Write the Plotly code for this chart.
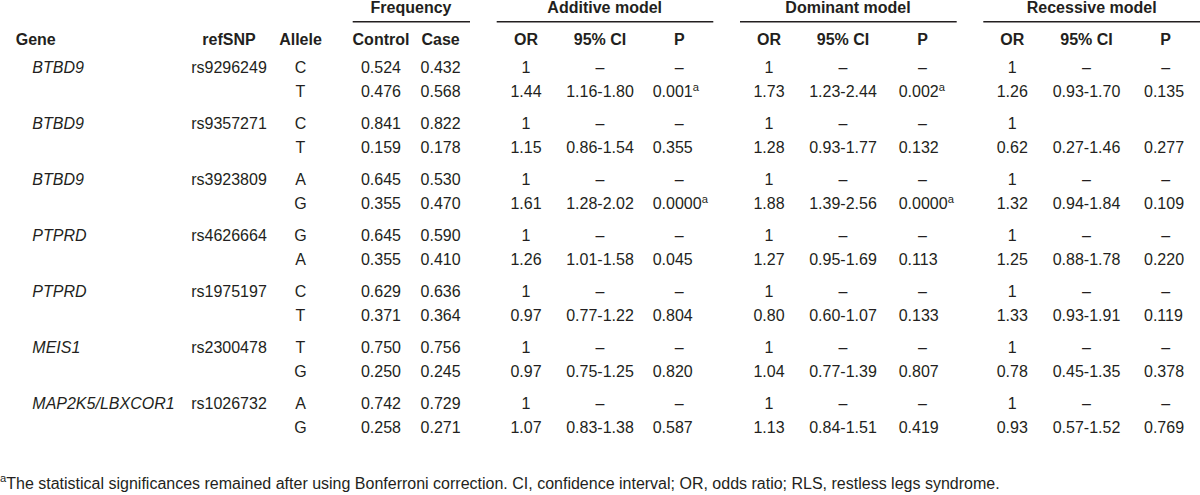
import plotly.graph_objects as go

# ---------------- data ----------------
genes = ["BTBD9", "BTBD9", "BTBD9", "PTPRD", "PTPRD", "MEIS1", "MAP2K5/LBXCOR1"]
snps = ["rs9296249", "rs9357271", "rs3923809", "rs4626664", "rs1975197", "rs2300478", "rs1026732"]
alleles = [["C", "T"], ["C", "T"], ["A", "G"], ["G", "A"], ["C", "T"], ["T", "G"], ["A", "G"]]
control_freq = [[0.524, 0.476], [0.841, 0.159], [0.645, 0.355], [0.645, 0.355],
                [0.629, 0.371], [0.750, 0.250], [0.742, 0.258]]
case_freq = [[0.432, 0.568], [0.822, 0.178], [0.530, 0.470], [0.590, 0.410],
             [0.636, 0.364], [0.756, 0.245], [0.729, 0.271]]

add_or = [1.44, 1.15, 1.61, 1.26, 0.97, 0.97, 1.07]
add_ci = ["1.16-1.80", "0.86-1.54", "1.28-2.02", "1.01-1.58", "0.77-1.22", "0.75-1.25", "0.83-1.38"]
add_p = ["0.001", "0.355", "0.0000", "0.045", "0.804", "0.820", "0.587"]
add_sig = [True, False, True, False, False, False, False]

dom_or = [1.73, 1.28, 1.88, 1.27, 0.80, 1.04, 1.13]
dom_ci = ["1.23-2.44", "0.93-1.77", "1.39-2.56", "0.95-1.69", "0.60-1.07", "0.77-1.39", "0.84-1.51"]
dom_p = ["0.002", "0.132", "0.0000", "0.113", "0.133", "0.807", "0.419"]
dom_sig = [True, False, True, False, False, False, False]

rec_or = [1.26, 0.62, 1.32, 1.25, 1.33, 0.78, 0.93]
rec_ci = ["0.93-1.70", "0.27-1.46", "0.94-1.84", "0.88-1.78", "0.93-1.91", "0.45-1.35", "0.57-1.52"]
rec_p = ["0.135", "0.277", "0.109", "0.220", "0.119", "0.378", "0.769"]
rec_sig = [False] * 7
# reference-row dashes shown (False = blank cells)
rec_ref_dash = [True, False, True, True, True, True, True]

group_headers = ["Frequency", "Additive model", "Dominant model", "Recessive model"]
col_headers = ["Gene", "refSNP", "Allele", "Control", "Case",
               "OR", "95% CI", "P", "OR", "95% CI", "P", "OR", "95% CI", "P"]
footnote = ("<sup>a</sup>The statistical significances remained after using Bonferroni correction. "
            "CI, confidence interval; OR, odds ratio; RLS, restless legs syndrome.")

# ---------------- layout constants (pixels) ----------------
W, H = 1200, 495
FONT = "Liberation Sans, Arial, sans-serif"
COLOR = "#231f20"
FS = 16

Y_GROUP_HDR = 8.5
Y_LINE = 21.7
Y_COL_HDR = 40.7
Y_ROW0 = 69.3
GROUP_STEP = 56
PAIR_STEP = 24
Y_FOOT = 485

X_GENE_HDR = 15.7
X_GENE = 32.3
X_SNP = 229
X_ALLELE = 300.5
X_CTRL = 381
X_CASE = 440.6
# model columns: OR center, CI center, P header/dash center, P values left edge
MODEL_X = [
    (526, 600, 679.3, 652.7),
    (769, 843, 922.5, 898.7),
    (1012.3, 1086.5, 1165.7, 1144),
]
GROUP_HDR_X = [411, 604.7, 848, 1091.7]
GROUP_LINES = [(352.7, 470), (496.7, 713.3), (740, 956.7), (983.3, 1200)]
COL_HDR_X = [None, X_SNP, X_ALLELE, X_CTRL, X_CASE] + [v for m in MODEL_X for v in m[:3]]

cx, cy, ct = [], [], []   # centred text
lx, ly, lt = [], [], []   # left-aligned text


def C(x, y, t):
    cx.append(x); cy.append(y); ct.append(t)


def L(x, y, t):
    lx.append(x); ly.append(y); lt.append(t)


# headers
for x, t in zip(GROUP_HDR_X, group_headers):
    C(x, Y_GROUP_HDR, f"<b>{t}</b>")
L(X_GENE_HDR, Y_COL_HDR, f"<b>{col_headers[0]}</b>")
for x, t in zip(COL_HDR_X[1:], col_headers[1:]):
    C(x, Y_COL_HDR, f"<b>{t}</b>")

DASH = "\u2013"
models = [
    (add_or, add_ci, add_p, add_sig, [True] * 7),
    (dom_or, dom_ci, dom_p, dom_sig, [True] * 7),
    (rec_or, rec_ci, rec_p, rec_sig, rec_ref_dash),
]

for g in range(len(genes)):
    y0 = Y_ROW0 + g * GROUP_STEP
    y1 = y0 + PAIR_STEP
    L(X_GENE, y0, f"<i>{genes[g]}</i>")
    C(X_SNP, y0, snps[g])
    for k, yy in enumerate((y0, y1)):
        C(X_ALLELE, yy, alleles[g][k])
        C(X_CTRL, yy, f"{control_freq[g][k]:.3f}")
        C(X_CASE, yy, f"{case_freq[g][k]:.3f}")
    for (orv, ci, pv, sig, refdash), (xo, xc, xp, xpl) in zip(models, MODEL_X):
        C(xo, y0, "1")
        if refdash[g]:
            C(xc, y0, DASH)
            C(xp, y0, DASH)
        C(xo, y1, f"{orv[g]:.2f}")
        C(xc, y1, ci[g])
        L(xpl, y1, pv[g] + ("<sup>a</sup>" if sig[g] else ""))

L(0, Y_FOOT, footnote)

fig = go.Figure()
fig.add_trace(go.Scatter(x=cx, y=cy, text=ct, mode="text", textposition="middle center",
                         textfont=dict(family=FONT, size=FS, color=COLOR), hoverinfo="skip"))
fig.add_trace(go.Scatter(x=lx, y=ly, text=lt, mode="text", textposition="middle right",
                         marker=dict(size=0),
                         textfont=dict(family=FONT, size=FS, color=COLOR), hoverinfo="skip"))

for x0, x1 in GROUP_LINES:
    fig.add_shape(type="line", xref="x", yref="y", x0=x0, x1=x1, y0=Y_LINE, y1=Y_LINE,
                  line=dict(color=COLOR, width=1.5))

fig.update_layout(
    width=W, height=H, margin=dict(l=0, r=0, t=0, b=0),
    paper_bgcolor="white", plot_bgcolor="white", showlegend=False,
    xaxis=dict(range=[0, W], visible=False, fixedrange=True),
    yaxis=dict(range=[H, 0], visible=False, fixedrange=True),
)

fig.write_html("out.html", config={"displayModeBar": False, "staticPlot": True},
               post_script="document.body.style.margin='0';")
